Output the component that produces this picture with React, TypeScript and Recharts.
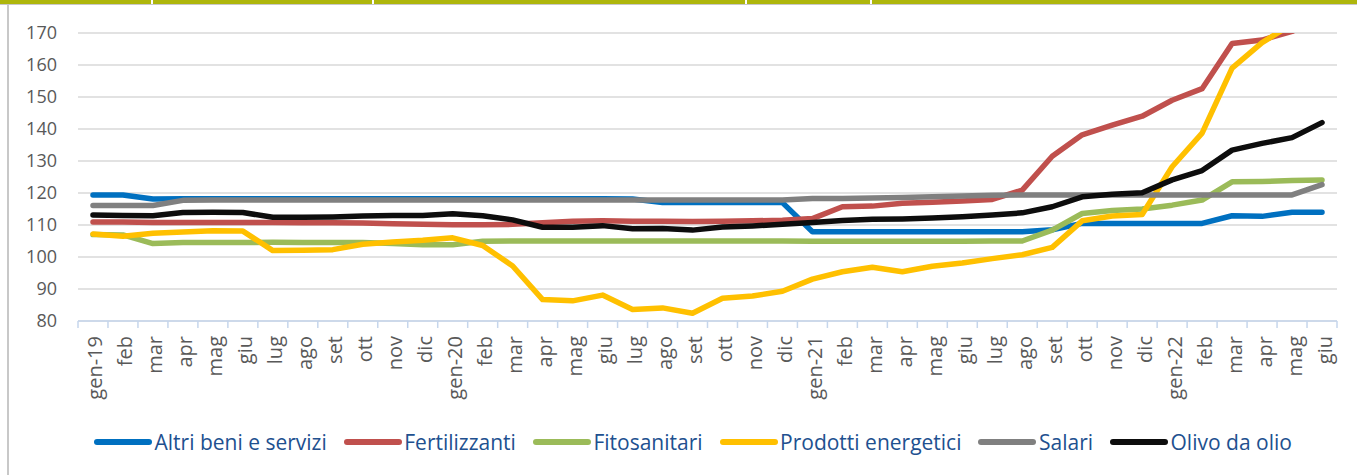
import React from "react";
import { LineChart, Line, XAxis, YAxis, CartesianGrid } from "recharts";

const months = [
  "gen-19", "feb", "mar", "apr", "mag", "giu", "lug", "ago", "set", "ott", "nov", "dic",
  "gen-20", "feb", "mar", "apr", "mag", "giu", "lug", "ago", "set", "ott", "nov", "dic",
  "gen-21", "feb", "mar", "apr", "mag", "giu", "lug", "ago", "set", "ott", "nov", "dic",
  "gen-22", "feb", "mar", "apr", "mag", "giu",
];

const altri = [
  119.4, 119.4, 118.1, 118.2, 118.2, 118.2, 118.2, 118.2, 118.2, 118.2, 118.2, 118.2,
  118.2, 118.2, 118.2, 118.2, 118.2, 118.2, 118.1, 117.0, 117.0, 117.0, 117.0, 117.0,
  107.9, 107.9, 107.9, 107.9, 107.9, 107.9, 107.9, 107.9, 108.5, 110.5, 110.5, 110.5,
  110.5, 110.5, 112.9, 112.7, 114.0, 114.0,
];
const fertilizzanti = [
  110.9, 110.9, 110.8, 110.8, 110.8, 110.8, 110.8, 110.7, 110.7, 110.6, 110.4, 110.2,
  110.1, 110.1, 110.2, 110.7, 111.2, 111.3, 111.2, 111.2, 111.1, 111.2, 111.3, 111.5,
  112.0, 115.7, 115.9, 116.8, 117.1, 117.5, 118.0, 120.9, 131.5, 138.2, 141.2, 144.0,
  149.0, 152.6, 166.7, 167.8, 170.5, 175.0,
];
const fitosanitari = [
  107.0, 106.9, 104.2, 104.5, 104.5, 104.5, 104.6, 104.5, 104.5, 104.5, 104.2, 103.8,
  103.8, 104.9, 105.0, 105.0, 105.0, 105.0, 105.0, 105.0, 105.0, 105.0, 105.0, 105.0,
  104.9, 104.9, 104.9, 104.9, 104.9, 104.9, 105.0, 105.0, 108.4, 113.6, 114.5, 115.0,
  116.2, 117.8, 123.5, 123.6, 123.9, 124.1,
];
const energetici = [
  107.2, 106.5, 107.4, 107.8, 108.2, 108.1, 102.0, 102.1, 102.3, 104.0, 104.7, 105.2,
  106.0, 103.6, 97.2, 86.7, 86.3, 88.1, 83.6, 84.1, 82.4, 87.1, 87.8, 89.3,
  93.1, 95.4, 96.8, 95.4, 97.1, 98.1, 99.5, 100.7, 103.0, 111.3, 112.8, 113.3,
  128.2, 138.7, 159.0, 167.0, 172.8, 178.0,
];
const salari = [
  116.1, 116.1, 116.1, 117.7, 117.8, 117.8, 117.8, 117.8, 117.8, 117.8, 117.8, 117.8,
  117.8, 117.8, 117.8, 117.8, 117.8, 117.8, 117.8, 117.8, 117.8, 117.8, 117.8, 117.8,
  118.3, 118.3, 118.4, 118.6, 118.8, 119.1, 119.3, 119.4, 119.4, 119.4, 119.4, 119.4,
  119.4, 119.4, 119.4, 119.4, 119.4, 122.6,
];
const olivo = [
  113.1, 113.0, 112.9, 113.9, 114.0, 113.9, 112.4, 112.4, 112.5, 112.8, 113.0, 113.0,
  113.5, 112.9, 111.6, 109.3, 109.3, 109.8, 108.8, 108.9, 108.4, 109.4, 109.7, 110.2,
  110.8, 111.4, 111.8, 111.9, 112.2, 112.6, 113.1, 113.8, 115.7, 118.8, 119.6, 120.1,
  124.1, 127.0, 133.4, 135.5, 137.3, 142.0,
];

const yTicks = [80, 90, 100, 110, 120, 130, 140, 150, 160, 170];

const series = [
  { key: "altri", name: "Altri beni e servizi", color: "#0070c0", values: altri },
  { key: "fert", name: "Fertilizzanti", color: "#c0504d", values: fertilizzanti },
  { key: "fito", name: "Fitosanitari", color: "#9bbb59", values: fitosanitari },
  { key: "ener", name: "Prodotti energetici", color: "#ffc000", values: energetici },
  { key: "salari", name: "Salari", color: "#808080", values: salari },
  { key: "olivo", name: "Olivo da olio", color: "#0d0d0d", values: olivo },
];

const data = months.map((m, i) => {
  const row: Record<string, string | number> = { month: m };
  series.forEach((s) => {
    row[s.key] = s.values[i];
  });
  return row;
});

const PLOT_LEFT = 78;
const PLOT_RIGHT = 1337;
const BAND = (PLOT_RIGHT - PLOT_LEFT) / months.length;
const AXIS_COLOR = "#c6d6ec";
const FONT = "'Open Sans', sans-serif";

const MonthTick = (props: any) => {
  const { x, y, payload } = props;
  const last = payload.index === months.length - 1;
  return (
    <g>
      <line x1={x - BAND / 2} x2={x - BAND / 2} y1={y} y2={y + 7} stroke={AXIS_COLOR} strokeWidth={1.5} />
      {last && (
        <line x1={x + BAND / 2} x2={x + BAND / 2} y1={y} y2={y + 7} stroke={AXIS_COLOR} strokeWidth={1.5} />
      )}
      <text
        transform={`translate(${x + 9.5},${y + 15}) rotate(-90)`}
        textAnchor="end"
        fill="#595959"
        fontSize={20}
        fontFamily={FONT}
      >
        {payload.value}
      </text>
    </g>
  );
};

export default function App() {
  return (
    <div style={{ position: "absolute", left: 0, top: 0, width: 1357, height: 475, background: "#fff", overflow: "hidden" }}>
      <div style={{ position: "absolute", left: 0, top: 0, width: 1357, height: 4, background: "#aeb60c" }} />
      <div style={{ position: "absolute", left: 0, top: 4, width: 1357, height: 1, background: "#c8c8c8" }} />
      <div style={{ position: "absolute", left: 151, top: 0, width: 2, height: 4, background: "#fff" }} />
      <div style={{ position: "absolute", left: 372, top: 0, width: 2, height: 4, background: "#fff" }} />
      <div style={{ position: "absolute", left: 745, top: 0, width: 2, height: 4, background: "#fff" }} />
      <div style={{ position: "absolute", left: 870, top: 0, width: 2, height: 4, background: "#fff" }} />
      <div style={{ position: "absolute", left: 7, top: 5, width: 2, height: 470, background: "#c8c8c8" }} />

      <div style={{ position: "absolute", left: 0, top: 0 }}>
        <LineChart
          width={1357}
          height={475}
          data={data}
          margin={{ top: 33, right: 1357 - PLOT_RIGHT, left: PLOT_LEFT - 60, bottom: 0 }}
        >
          <CartesianGrid vertical={false} stroke="#d9d9d9" strokeWidth={1.3} />
          <XAxis
            dataKey="month"
            interval={0}
            height={154}
            padding={{ left: BAND / 2, right: BAND / 2 }}
            axisLine={{ stroke: AXIS_COLOR, strokeWidth: 1.5 }}
            tickLine={false}
            tickSize={0}
            tickMargin={0}
            tick={<MonthTick />}
          />
          <YAxis
            width={60}
            domain={[80, 170]}
            ticks={yTicks}
            allowDataOverflow
            axisLine={false}
            tickLine={false}
            tickMargin={15}
            tick={{ fill: "#595959", fontSize: 18, fontFamily: FONT }}
          />
          {series.map((s) => (
            <Line
              key={s.key}
              type="linear"
              dataKey={s.key}
              name={s.name}
              stroke={s.color}
              strokeWidth={5.5}
              strokeLinecap="round"
              strokeLinejoin="round"
              dot={false}
              activeDot={false}
              isAnimationActive={false}
            />
          ))}
        </LineChart>
      </div>

      <div
        style={{
          position: "absolute",
          left: 93,
          top: 428,
          height: 28,
          display: "flex",
          alignItems: "center",
          fontFamily: FONT,
          fontSize: 21,
          color: "#21508f",
          whiteSpace: "nowrap",
        }}
      >
        {series.map((s) => (
          <div key={s.key} style={{ display: "flex", alignItems: "center", marginRight: 16 }}>
            <svg width={60} height={10} style={{ marginRight: 1.5 }}>
              <line x1={4} x2={56} y1={5} y2={5} stroke={s.color} strokeWidth={6} strokeLinecap="round" />
            </svg>
            <span>{s.name}</span>
          </div>
        ))}
      </div>
    </div>
  );
}
